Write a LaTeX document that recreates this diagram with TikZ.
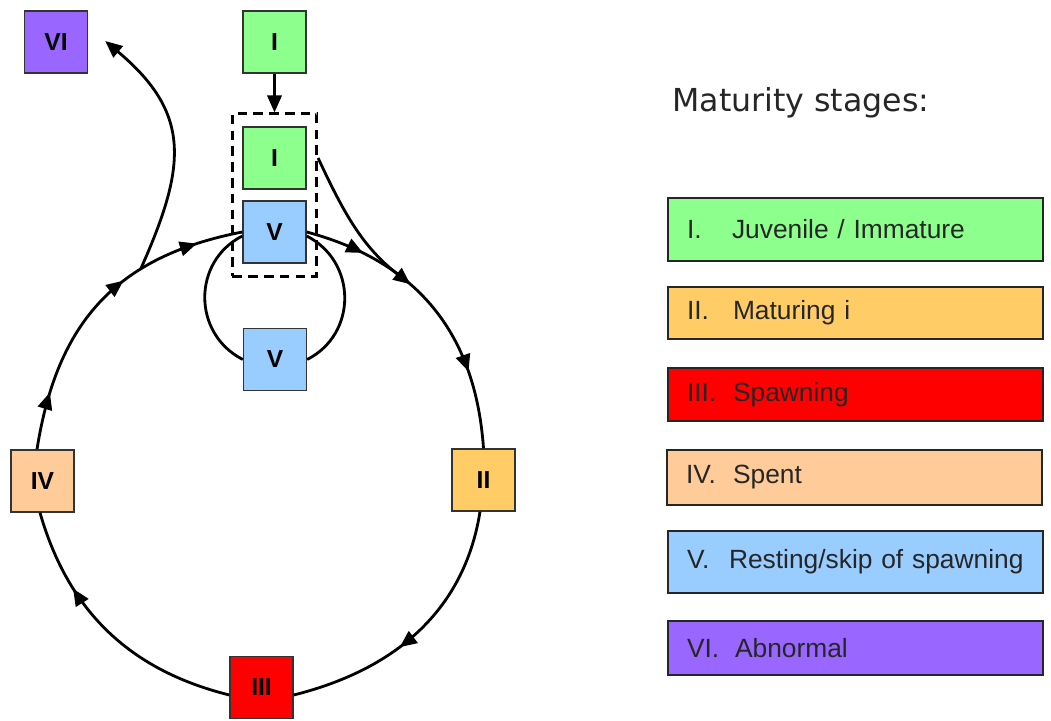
\documentclass[tikz,border=0pt]{standalone}
\usepackage{fontspec}
\setmainfont{Liberation Sans}
\newfontfamily\headfont{DejaVu Sans}
\usepackage{tikz}
\usetikzlibrary{arrows.meta}
\usetikzlibrary{calc}
\usetikzlibrary{fit,decorations.markings}
\usepackage{xcolor}

\definecolor{stageI}{HTML}{8CFF8C}
\definecolor{stageII}{HTML}{FFCC66}
\definecolor{stageIII}{HTML}{FF0000}
\definecolor{stageIV}{HTML}{FFCC99}
\definecolor{stageV}{HTML}{99CCFF}
\definecolor{stageVI}{HTML}{9966FF}

\begin{document}
\begin{tikzpicture}[x=0.02cm,y=0.02cm,
	>={Triangle[length=3.4mm,width=2.9mm]},
	stage/.style={draw=black!80,line width=0.8pt,minimum width=1.26cm,minimum height=1.24cm,inner sep=0pt,font=\fontsize{14}{16}\selectfont\bfseries},
	legbox/.style={draw=black!85,line width=0.9pt,text width=6.74cm,inner xsep=0.38cm,inner ysep=0pt,align=left,font=\fontsize{15}{18}\selectfont,text=black!85},
	grpbox/.style={draw,line width=1.6pt,dash pattern=on 5.5pt off 3.5pt},
	ring/.style={line width=1.6pt},
	midtip/.style={postaction={decorate,decoration={markings,mark=at position #1 with {\arrow{>}}}}}
	]
		
		\useasboundingbox (0,0) rectangle (1051,720);
		
		% Stage boxes round the cycle
		\node[stage,fill=stageVI] (VI) at (56,678) {VI};
		\node[stage,fill=stageI] (Itop) at (274.5,678) {I};
		\node[stage,fill=stageI] (Iin) at (274.5,562) {I};
		\node[stage,fill=stageV] (V) at (274.5,488) {V};
		\node[stage,fill=stageV] (Vrest) at (275,360.5) {V};
		\node[stage,fill=stageIV] (IV) at (42.5,239) {IV};
		\node[stage,fill=stageII] (II) at (483.5,240) {II};
		\node[stage,fill=stageIII] (III) at (261.5,32.5) {III};
		
		% Dashed group round I and V
		\node[grpbox,fit=(Iin)(V),inner xsep=0.2cm,inner ysep=0.25cm] (grp) {};
		\draw[line width=1.2pt,->] (Itop) -- (grp);
		
		% The cycle V -> II -> III -> IV -> V
		\draw[ring,midtip=0.2,midtip=0.74] (V.east) to[out=-15,in=94,looseness=1.05] coordinate[pos=0.38] (join) (II.north);
		\draw[ring,midtip=0.58] ([xshift=-0.07cm]II.south) to[out=-99,in=14] ([yshift=-0.15cm]III.east);
		\draw[ring,midtip=0.7] ([yshift=-0.15cm]III.west) to[out=166,in=-74] ([xshift=-0.05cm]IV.south);
		\draw[ring,midtip=0.18,midtip=0.6,midtip=0.855] ([xshift=-0.11cm]IV.north) to[out=81,in=191,looseness=1.1] coordinate[pos=0.68] (split) (V.west);
		
		% Branch to abnormal
		\draw[ring,->] (split) to[out=66,in=-40,looseness=1.25] ([xshift=0.34cm,yshift=0.02cm]VI.east);
		
		% Branch from immature into the cycle
		\draw[ring,->] (grp.east |- Iin.east) to[out=-65,in=142] (join);
		
		% Resting loop
		\draw[ring] ([yshift=-0.08cm]V.west) to[out=207,in=153,looseness=1.17] (Vrest.west);
		\draw[ring] ([yshift=-0.08cm]V.east) to[out=-27,in=27,looseness=1.17] (Vrest.east);
		
		% Legend
		\node[anchor=base west,inner sep=0pt,font=\headfont\fontsize{18}{22}\selectfont,text=black!85] (title) at (672,608) {Maturity stages:};
		\node[legbox,fill=stageI,minimum height=1.26cm] (legI) at (855.5,490.5) {\makebox[0.9cm][l]{I.}Juvenile / Immature};
		\node[legbox,fill=stageII,minimum height=1.04cm] (legII) at (855.5,407) {\makebox[0.92cm][l]{II.}Maturing i};
		\node[legbox,fill=stageIII,minimum height=1.06cm] (legIII) at (855.5,325.5) {\makebox[0.92cm][l]{III.}Spawning};
		\node[legbox,fill=stageIV,minimum height=1.1cm] (legIV) at (854.5,242.5) {\makebox[0.94cm][l]{IV.}Spent};
		\node[legbox,fill=stageV,minimum height=1.24cm] (legV) at (855.5,158) {\makebox[0.84cm][l]{V.}Resting/skip of spawning};
		\node[legbox,fill=stageVI,minimum height=1.08cm] (legVI) at (855.5,72) {\makebox[0.96cm][l]{VI.}Abnormal};
		
	\end{tikzpicture}
\end{document}
